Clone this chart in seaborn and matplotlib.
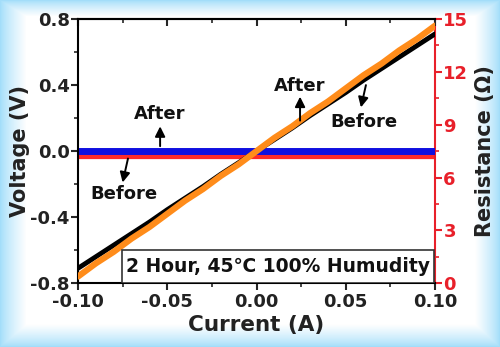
import numpy as np
import pandas as pd
import matplotlib
matplotlib.use("Agg")
import matplotlib.pyplot as plt
from matplotlib.patches import Rectangle
from matplotlib.ticker import MultipleLocator
import seaborn as sns

# current sweep (A)
current = [-0.10, -0.09, -0.08, -0.07, -0.06, -0.05, -0.04, -0.03, -0.02, -0.01, 0.00,
           0.01, 0.02, 0.03, 0.04, 0.05, 0.06, 0.07, 0.08, 0.09, 0.10]
# voltage before / after (V)
volt_before = [-0.71, -0.64, -0.57, -0.50, -0.43, -0.355, -0.285, -0.215, -0.14, -0.07, 0.0,
               0.07, 0.14, 0.215, 0.285, 0.355, 0.43, 0.50, 0.57, 0.64, 0.71]
volt_after = [-0.76, -0.68, -0.61, -0.53, -0.46, -0.38, -0.30, -0.23, -0.15, -0.08, 0.0,
              0.08, 0.15, 0.23, 0.30, 0.38, 0.46, 0.53, 0.61, 0.68, 0.76]
# resistance before / after (ohm)
res_before = [7.2] * 21
res_after = [7.5] * 21

df = pd.DataFrame({"I": current, "Vb": volt_before, "Va": volt_after,
                   "Rb": res_before, "Ra": res_after})

sns.set_style("ticks")
plt.rcParams["font.family"] = ["DejaVu Sans"]
plt.rcParams["font.weight"] = "bold"

fig = plt.figure(figsize=(5, 3.47), dpi=100)

# light blue glow background
H, W = 347, 500
yy, xx = np.mgrid[0:H, 0:W]
d = np.minimum(np.minimum(xx / 26.0, (W - 1 - xx) / 24.0),
               np.minimum(yy / 16.0, (H - 1 - yy) / 22.0))
t = np.clip(d, 0, 1) ** 0.8
edge = np.array([0.64, 0.87, 0.98])
img = edge[None, None, :] * (1 - t[..., None]) + 1.0 * t[..., None]
bg = fig.add_axes([0, 0, 1, 1], zorder=-5)
bg.imshow(img, aspect="auto", extent=[0, 1, 0, 1])
bg.axis("off")

ax = fig.add_axes([0.156, 0.184, 0.714, 0.761])
ax2 = ax.twinx()
# resistance axes behind, voltage axes on top
ax2.set_zorder(1)
ax.set_zorder(2)
ax2.patch.set_visible(True)
ax2.set_facecolor("white")
ax.patch.set_visible(False)

sns.lineplot(data=df, x="I", y="Rb", ax=ax2, color="#ff2a2a", lw=4.5, zorder=2)
sns.lineplot(data=df, x="I", y="Ra", ax=ax2, color="#1010e0", lw=5, zorder=3)
sns.lineplot(data=df, x="I", y="Vb", ax=ax, color="black", lw=3.5, zorder=2)
sns.lineplot(data=df, x="I", y="Va", ax=ax, color="#ff8c1a", lw=4.5, zorder=3)

ax.set_xlim(-0.10, 0.10)
ax.set_ylim(-0.8, 0.8)
ax2.set_ylim(0, 15)
ax.set_xticks([-0.10, -0.05, 0.00, 0.05, 0.10])
ax.set_xticklabels(["-0.10", "-0.05", "0.00", "0.05", "0.10"])
ax.set_yticks([-0.8, -0.4, 0.0, 0.4, 0.8])
ax.set_yticklabels(["-0.8", "-0.4", "0.0", "0.4", "0.8"])
ax.xaxis.set_minor_locator(MultipleLocator(0.025))
ax.yaxis.set_minor_locator(MultipleLocator(0.2))
ax2.set_yticks([0, 3, 6, 9, 12, 15])
ax2.yaxis.set_minor_locator(MultipleLocator(1.5))

ax.tick_params(axis="both", which="major", labelsize=13, width=1.5, length=5,
               direction="out", pad=1, labelcolor="#222222")
ax.tick_params(axis="x", which="major", pad=2)
ax.tick_params(axis="both", which="minor", width=1.2, length=3, direction="out")
ax2.tick_params(axis="y", which="major", labelsize=13, colors="#e8202a", width=1.5,
                length=5, pad=1)
ax2.tick_params(axis="y", which="minor", colors="#e8202a", width=1.2, length=3)
for lab in ax.get_xticklabels() + ax.get_yticklabels() + ax2.get_yticklabels():
    lab.set_fontweight("bold")

# inward ticks along the top spine
top = ax.secondary_xaxis("top")
top.set_xticks([-0.10, -0.05, 0.00, 0.05, 0.10])
top.xaxis.set_minor_locator(MultipleLocator(0.025))
top.tick_params(which="major", direction="in", length=5, width=1.5, labeltop=False)
top.tick_params(which="minor", direction="in", length=3, width=1.2)
top.spines["top"].set_linewidth(1.5)

for s in ["left", "bottom", "top"]:
    ax.spines[s].set_linewidth(1.5)
    ax.spines[s].set_color("black")
    ax2.spines[s].set_visible(False)
ax.spines["right"].set_visible(False)
ax2.spines["right"].set_color("#e8202a")
ax2.spines["right"].set_linewidth(1.5)

ax.set_xlabel("Current (A)", fontsize=15.5, fontweight="bold", color="#222222", labelpad=3)
ax.set_ylabel("Voltage (V)", fontsize=15, fontweight="bold", color="#222222", labelpad=0)
ax2.set_ylabel("Resistance (Ω)", fontsize=15, fontweight="bold", color="#222222", labelpad=5)

# labels with arrows
notes = [("After", -0.054, 0.224, (-0.054, 0.15), (-0.054, 0.03)),
         ("Before", -0.074, -0.26, (-0.075, -0.19), (-0.072, -0.045)),
         ("After", 0.0244, 0.394, (0.0244, 0.33), (0.0244, 0.185)),
         ("Before", 0.060, 0.176, (0.0585, 0.265), (0.0613, 0.40))]
for label, tx, ty, head, tail in notes:
    ax.text(tx, ty, label, fontsize=13, fontweight="bold", ha="center", va="center",
            zorder=8, color="#111111")
    ax.annotate("", xy=head, xytext=tail, zorder=8,
                arrowprops=dict(arrowstyle="-|>,head_length=0.6,head_width=0.3",
                                color="black", lw=1.4, shrinkA=0, shrinkB=0))

ax.add_patch(Rectangle((0.123, 0.0), 0.874, 0.125, transform=ax.transAxes,
                       facecolor="white", edgecolor="#333333", lw=1.2, zorder=6))
ax.text(0.56, 0.062, "2 Hour, 45℃ 100% Humudity", transform=ax.transAxes,
        fontsize=13.5, fontweight="bold", ha="center", va="center", zorder=7,
        color="#111111", family=["DejaVu Sans", "Noto Sans CJK SC"])

fig.savefig("out.png", dpi=100)
